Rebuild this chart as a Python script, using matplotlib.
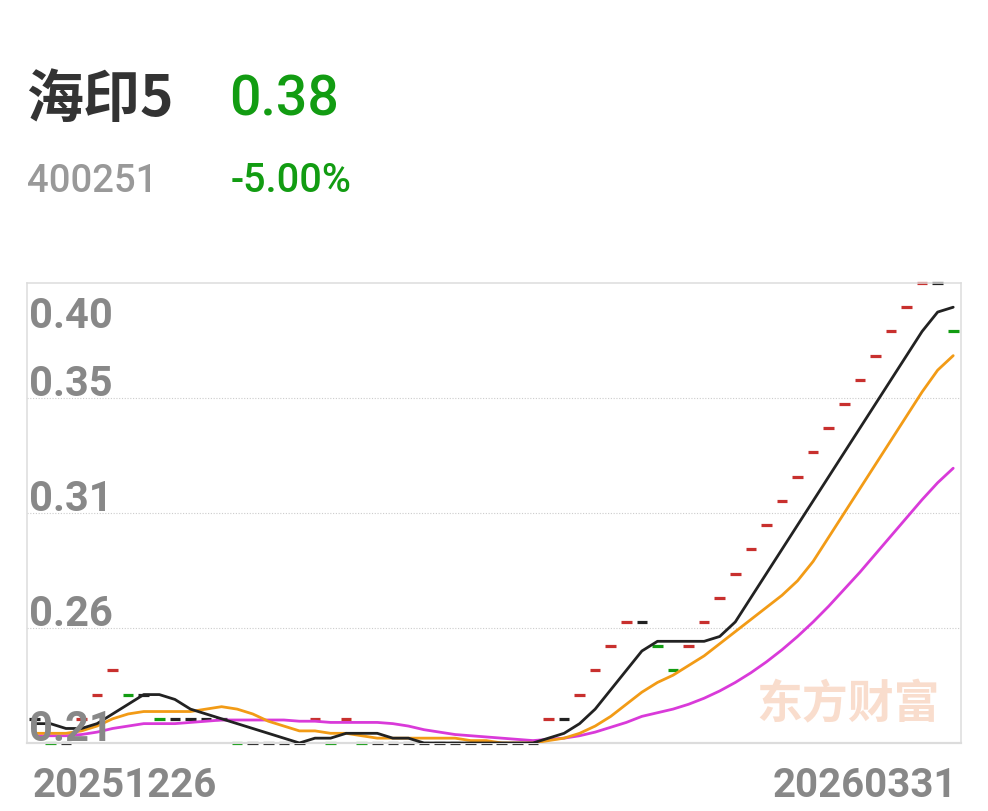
import numpy as np
import matplotlib
matplotlib.use("Agg")
import matplotlib.pyplot as plt
import matplotlib.transforms as mtransforms

# ---------------- data ----------------
name = "海印5"
code = "400251"
last_price = "0.38"
pct_change = "-5.00%"
x_labels = ["20251226", "20260331"]
y_labels = ["0.21", "0.26", "0.31", "0.35", "0.40"]
y_min, y_max = 0.21, 0.40
prev_close = 0.22  # close before first visible day

close = [0.22, 0.21, 0.21, 0.22, 0.23, 0.24, 0.23, 0.23, 0.22, 0.22,
         0.22, 0.22, 0.22, 0.21, 0.21, 0.21, 0.21, 0.21, 0.22, 0.21,
         0.22, 0.21, 0.21, 0.21, 0.21, 0.21, 0.21, 0.21, 0.21, 0.21,
         0.21, 0.21, 0.21, 0.22, 0.22, 0.23, 0.24, 0.25, 0.26, 0.26,
         0.25, 0.24, 0.25, 0.26, 0.27, 0.28, 0.29, 0.30, 0.31, 0.32,
         0.33, 0.34, 0.35, 0.36, 0.37, 0.38, 0.39, 0.40, 0.40, 0.38]

ma5 = [0.218, 0.218, 0.216, 0.216, 0.218, 0.222, 0.226, 0.230, 0.230, 0.228,
       0.224, 0.222, 0.220, 0.218, 0.216, 0.214, 0.212, 0.210, 0.212, 0.212,
       0.214, 0.214, 0.214, 0.212, 0.212, 0.210, 0.210, 0.210, 0.210, 0.210,
       0.210, 0.210, 0.210, 0.212, 0.214, 0.218, 0.224, 0.232, 0.240, 0.248,
       0.252, 0.252, 0.252, 0.252, 0.254, 0.260, 0.270, 0.280, 0.290, 0.300,
       0.310, 0.320, 0.330, 0.340, 0.350, 0.360, 0.370, 0.380, 0.388, 0.390]

ma10 = [0.214, 0.214, 0.214, 0.215, 0.217, 0.220, 0.222, 0.223, 0.223, 0.223,
        0.223, 0.224, 0.225, 0.224, 0.222, 0.219, 0.217, 0.215, 0.215, 0.214,
        0.214, 0.213, 0.212, 0.212, 0.212, 0.212, 0.212, 0.212, 0.211, 0.211,
        0.210, 0.210, 0.210, 0.211, 0.212, 0.214, 0.217, 0.221, 0.226, 0.231,
        0.235, 0.238, 0.242, 0.246, 0.251, 0.256, 0.261, 0.266, 0.271, 0.277,
        0.285, 0.295, 0.305, 0.315, 0.325, 0.335, 0.345, 0.355, 0.364, 0.370]

ma20 = [0.2130, 0.2130, 0.2130, 0.2135, 0.2145, 0.2160, 0.2170, 0.2180, 0.2180, 0.2180,
        0.2185, 0.2190, 0.2195, 0.2195, 0.2195, 0.2195, 0.2195, 0.2190, 0.2190, 0.2185,
        0.2185, 0.2185, 0.2185, 0.2180, 0.2170, 0.2155, 0.2145, 0.2135, 0.2130, 0.2125,
        0.2120, 0.2115, 0.2110, 0.2115, 0.2120, 0.2130, 0.2145, 0.2165, 0.2185, 0.2210,
        0.2225, 0.2240, 0.2260, 0.2285, 0.2315, 0.2350, 0.2390, 0.2435, 0.2485, 0.2540,
        0.2600, 0.2665, 0.2735, 0.2805, 0.2880, 0.2955, 0.3030, 0.3105, 0.3175, 0.3235]

# ---------------- styles ----------------
W, H = 988, 812
UP, DOWN, FLAT = "#c8302e", "#129c12", "#222222"
GRAY_TXT = "#888888"
NUM_FONT = ["Roboto", "DejaVu Sans"]
CJK_FONT = ["Noto Sans CJK SC", "DejaVu Sans"]

fig = plt.figure(figsize=(W / 100, H / 100), dpi=100)
fig.patch.set_facecolor("white")

def fx(px):
    return px / W

def fy(py):
    return 1 - py / H

L, R, T, B = 27, 961, 284, 744
ax = fig.add_axes([fx(L), fy(B), (R - L) / W, (B - T) / H])
n = len(close)
x = np.arange(n)
ax.set_xlim(-0.5, n - 0.5)
ax.set_ylim(y_min, y_max)
ax.set_xticks([])
ax.set_yticks([])
for s in ax.spines.values():
    s.set_color("#dcdcdc")
    s.set_linewidth(1.1)
ax.spines["bottom"].set_linewidth(1.6)

# grid lines (evenly spaced)
grid_vals = np.linspace(y_min, y_max, len(y_labels))
for g in grid_vals[1:-1]:
    ax.axhline(g, color="#cccccc", lw=0.8, ls=(0, (1, 1.5)), zorder=0)

# y labels
for i, (g, lab) in enumerate(zip(grid_vals, y_labels)):
    if i == len(y_labels) - 1:
        off = mtransforms.ScaledTranslation(0, -44 / 100, fig.dpi_scale_trans)
    else:
        off = mtransforms.ScaledTranslation(0, 2.5 / 100, fig.dpi_scale_trans)
    tr = mtransforms.blended_transform_factory(ax.transAxes, ax.transData) + off
    ax.text(0.002, g, lab, transform=tr, ha="left", va="baseline",
            fontsize=30, color=GRAY_TXT, family=NUM_FONT, fontweight="bold",
            zorder=6, clip_on=False)

# watermark
ax.text(fx(848), fy(705), "东方财富", transform=fig.transFigure, ha="center", va="center",
        fontsize=33, color="#f8d2bd", alpha=0.75, family=CJK_FONT, fontweight="bold",
        zorder=1)

# candles (one-price days drawn as short dashes)
prev = [prev_close] + close[:-1]
colors = [UP if c > p + 1e-9 else (DOWN if c < p - 1e-9 else FLAT) for c, p in zip(close, prev)]
ax.hlines(close, x - 0.34, x + 0.34, colors=colors, lw=2.3, zorder=2, clip_on=False)

# moving averages
ax.plot(x, ma20, color="#d93ad9", lw=2.0, zorder=3, solid_capstyle="round")
ax.plot(x, ma10, color="#f29b16", lw=2.0, zorder=4, solid_capstyle="round")
ax.plot(x, ma5, color="#222222", lw=2.0, zorder=5, solid_capstyle="round")

# x labels
fig.text(fx(33), fy(797), x_labels[0], ha="left", va="baseline", fontsize=29,
         color=GRAY_TXT, family=NUM_FONT, fontweight="bold")
fig.text(fx(957), fy(797), x_labels[1], ha="right", va="baseline", fontsize=29,
         color=GRAY_TXT, family=NUM_FONT, fontweight="bold")

# header
fig.text(fx(26), fy(117), name, ha="left", va="baseline", fontsize=41,
         color="#333333", family=CJK_FONT, fontweight="bold")
fig.text(fx(229), fy(116), last_price, ha="left", va="baseline", fontsize=40,
         color=DOWN, family=NUM_FONT, fontweight="medium")
fig.text(fx(27), fy(192), code, ha="left", va="baseline", fontsize=27.5,
         color="#999999", family=NUM_FONT, fontweight="medium")
fig.text(fx(231), fy(192), pct_change, ha="left", va="baseline", fontsize=28.5,
         color=DOWN, family=NUM_FONT, fontweight="medium")

fig.savefig("out.png", dpi=100, facecolor="white")
